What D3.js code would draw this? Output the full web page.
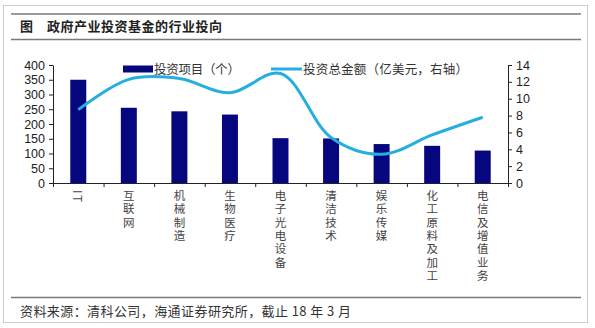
<!DOCTYPE html>
<html><head><meta charset="utf-8">
<script src="https://cdn.jsdelivr.net/npm/d3@7/dist/d3.min.js"></script>
<style>
html,body{margin:0;padding:0;background:#fff;}
svg{display:block;}
</style></head>
<body>
<svg id="chart" width="595" height="328"></svg>
<script>
const titleLabel = "图";
const titleText = "政府产业投资基金的行业投向";
const sourceText = "资料来源：清科公司，海通证券研究所，截止 18 年 3 月";
const categories = ["IT","互联网","机械制造","生物医疗","电子光电设备","清洁技术","娱乐传媒","化工原料及加工","电信及增值业务"];
const projects = [350, 255, 243, 232, 152, 151, 132, 126, 110];
const amounts = [8.7, 12.3, 12.4, 10.7, 13.0, 5.4, 3.4, 5.7, 7.8];
const leftTicks = [0,50,100,150,200,250,300,350,400];
const rightTicks = [0,2,4,6,8,10,12,14];
const seriesNames = ["投资项目（个）","投资总金额（亿美元，右轴）"];

const svg = d3.select("#chart");
const cjk = "'Noto Sans CJK SC','Noto Sans',sans-serif";
const num = "'Liberation Sans',Arial,sans-serif";
const barColor = "#06067e";
const lineColor = "#27aee0";

// frame
svg.append("rect").attr("x",3.5).attr("y",5.5).attr("width",584).attr("height",317)
  .attr("fill","none").attr("stroke","#cfcfcf").attr("stroke-width",1);
// rule lines
[14,39.5,297.5].forEach(y=>{
  svg.append("line").attr("x1",11).attr("x2",581).attr("y1",y).attr("y2",y)
    .attr("stroke","#7a7a7a").attr("stroke-width",1.5);
});
svg.append("text").attr("x",20).attr("y",31).attr("font-family",cjk).attr("font-size",13)
  .attr("font-weight","bold").attr("fill","#222").text(titleLabel);
svg.append("text").attr("x",47).attr("y",31).attr("font-family",cjk).attr("font-size",13)
  .attr("font-weight","bold").attr("fill","#222").attr("textLength",175).text(titleText);
svg.append("text").attr("x",20).attr("y",316).attr("font-family",cjk).attr("font-size",13)
  .attr("fill","#333").attr("textLength",331).text(sourceText);

const L = 53, R = 508, T = 65, B = 183;
const x = d3.scaleBand().domain(categories).range([L,R]).paddingInner(0.684).paddingOuter(0.342);
const xi = d3.scaleLinear().domain([0,categories.length]).range([L,R]);
const yL = d3.scaleLinear().domain([0,400]).range([B,T]);
const yR = d3.scaleLinear().domain([0,14]).range([B,T]);

// bars
svg.append("g").selectAll("rect").data(projects).join("rect")
  .attr("x",(d,i)=>x(categories[i])).attr("width",x.bandwidth())
  .attr("y",d=>yL(d)).attr("height",d=>B-yL(d)).attr("fill",barColor);

// axes
function styleAxis(g){
  g.selectAll("path,line").attr("stroke","#222").attr("stroke-width",1);
  g.selectAll("text").attr("font-family",num).attr("font-size",12.5).attr("fill","#222");
}
svg.append("g").attr("transform",`translate(${L},0)`)
  .call(d3.axisLeft(yL).tickValues(leftTicks).tickSize(4).tickSizeOuter(0).tickPadding(4))
  .call(styleAxis);
svg.append("g").attr("transform",`translate(${R},0)`)
  .call(d3.axisRight(yR).tickValues(rightTicks).tickSize(4).tickSizeOuter(0).tickPadding(4))
  .call(styleAxis);
svg.append("g").attr("transform",`translate(0,${B})`)
  .call(d3.axisBottom(xi).tickValues(d3.range(categories.length+1)).tickSize(4).tickSizeOuter(0).tickFormat(""))
  .call(styleAxis);

// category labels (vertical writing)
const cx = c => x(c) + x.bandwidth()/2;
svg.append("g").selectAll("text").data(categories).join("text")
  .attr("x",d=>cx(d)).attr("y",190)
  .attr("writing-mode","vertical-rl")
  .style("writing-mode","vertical-rl")
  .attr("font-family",cjk).attr("font-size",11.5).attr("fill","#444")
  .attr("letter-spacing",1.8)
  .text(d=>d);

// line
const line = d3.line().x((d,i)=>cx(categories[i])).y(d=>yR(d)).curve(d3.curveCatmullRom.alpha(0.5));
svg.append("path").datum(amounts).attr("d",line).attr("fill","none")
  .attr("stroke",lineColor).attr("stroke-width",3);

// legend
svg.append("rect").attr("x",123).attr("y",65.5).attr("width",30).attr("height",7).attr("fill",barColor);
svg.append("text").attr("x",154).attr("y",73.5).attr("font-family",cjk).attr("font-size",12.5)
  .attr("fill","#333").attr("textLength",86).text(seriesNames[0]);
svg.append("line").attr("x1",271).attr("x2",302).attr("y1",69).attr("y2",69)
  .attr("stroke",lineColor).attr("stroke-width",3);
svg.append("text").attr("x",303).attr("y",73.5).attr("font-family",cjk).attr("font-size",12.5)
  .attr("fill","#333").attr("textLength",165).text(seriesNames[1]);
</script>
</body></html>
